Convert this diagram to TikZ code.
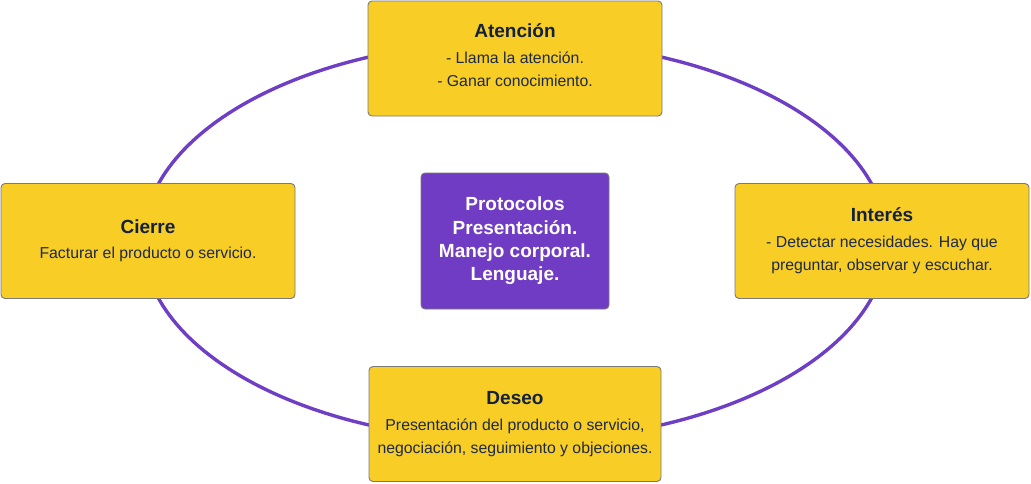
\documentclass[tikz,border=0pt]{standalone}
\usepackage{fontspec}
\setmainfont{Liberation Sans}
\definecolor{boxyellow}{HTML}{F7CD26}
\definecolor{boxpurple}{HTML}{6F3CC3}
\definecolor{ringpurple}{HTML}{6E3FC5}
\definecolor{edgegrey}{HTML}{7A7A7A}
\definecolor{txtnavy}{HTML}{1E2A44}
\definecolor{ttlnavy}{HTML}{14213D}
\tikzset{
  stagebox/.style={draw=edgegrey, line width=0.9pt, fill=boxyellow, rounded corners=4pt,
    minimum width=294pt, minimum height=115pt, inner sep=0pt, align=center,
    text=txtnavy, font=\fontsize{15.8}{23}\selectfont},
  corebox/.style={draw=edgegrey, line width=0.9pt, fill=boxpurple, rounded corners=4pt,
    minimum width=188pt, minimum height=136pt, inner sep=0pt, align=center,
    text=white, font=\fontsize{19}{23.3}\selectfont\bfseries}
}
\newcommand{\stitle}[1]{{\color{ttlnavy}\fontsize{19}{23}\selectfont\bfseries #1}}
\begin{document}
\begin{tikzpicture}[x=1pt,y=-1pt]
\useasboundingbox (0,0) rectangle (1031,483);
\coordinate (c) at (515,241);
\draw[ringpurple, line width=3.4pt] (c) ellipse [x radius=372pt, y radius=200pt];
\node[stagebox] (aten) at (515,58.5) {};
\node[align=center, text=txtnavy, font=\fontsize{15.8}{23}\selectfont, inner sep=0pt] (atentxt) at (515,55.5)
  {\stitle{Atención}\\[3pt]- Llama la atención.\\- Ganar conocimiento.};
\node[stagebox] (cier) at (148,241) {\stitle{Cierre}\\[2pt]Facturar el producto o servicio.};
\node[stagebox] (inte) at (882,241) {\stitle{Interés}\\[3pt]- Detectar necesidades. Hay que\\preguntar, observar y escuchar.};
\node[stagebox, minimum width=292pt] (dese) at (515,424) {\stitle{Deseo}\\[3pt]Presentación del producto o servicio,\\negociación, seguimiento y objeciones.};
\node[corebox] (core) at (515,241) {Protocolos\\Presentación.\\Manejo corporal.\\Lenguaje.};
\end{tikzpicture}
\end{document}
